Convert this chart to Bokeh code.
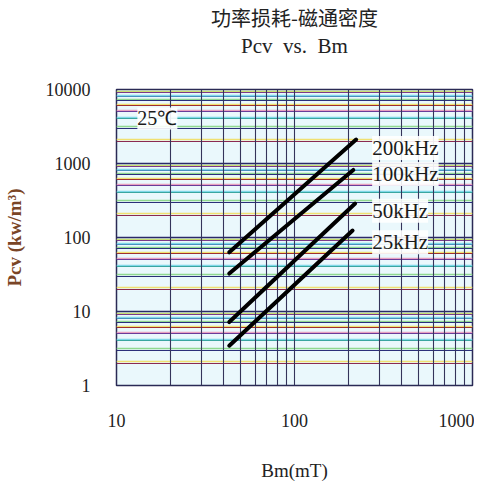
from bokeh.plotting import figure
from bokeh.models import Grid, FixedTicker, Label, Title, NumeralTickFormatter
from bokeh.embed import file_html
from bokeh.resources import INLINE

# ---- data ----
freq_labels = ["200kHz", "100kHz", "50kHz", "25kHz"]
bm_start = [43, 43, 43, 43]
bm_end = [222, 214, 219, 212]
pcv_start = [63, 32.6, 7.2, 3.45]
pcv_end = [2110, 818, 288, 124]
label_bm = [273, 273, 273, 273]
label_pcv = [1615, 723, 230, 86]

x_ticks = [10, 100, 1000]
y_ticks = [1, 10, 100, 1000, 10000]
temp_label = "25℃"

SERIF = "Liberation Serif"

p = figure(width=474, height=483, x_axis_type="log", y_axis_type="log",
           x_range=(10, 1000), y_range=(1, 10000),
           output_backend="svg", toolbar_location=None,
           min_border_left=109, min_border_right=2,
           min_border_top=4, min_border_bottom=14)

p.background_fill_color = "#eaf8fc"
p.border_fill_color = "white"
p.outline_line_color = "#2a2a55"
p.outline_line_width = 1.5

# axes
for ax in (p.xaxis[0], p.yaxis[0]):
    ax.axis_line_color = None
    ax.major_tick_line_color = None
    ax.minor_tick_line_color = None
    ax.major_label_text_font = SERIF
    ax.major_label_text_font_size = "18px"
    ax.major_label_text_color = "#222222"
    ax.formatter = NumeralTickFormatter(format="0")
p.xaxis.ticker = FixedTicker(ticks=x_ticks)
p.yaxis.ticker = FixedTicker(ticks=y_ticks)
p.xaxis.major_label_standoff = 22
p.yaxis.major_label_standoff = 20
p.xaxis.axis_label = "Bm(mT)"
p.xaxis.axis_label_text_font = SERIF
p.xaxis.axis_label_text_font_size = "19px"
p.xaxis.axis_label_text_font_style = "normal"
p.xaxis.axis_label_text_color = "#222222"
p.xaxis.axis_label_standoff = 30
p.yaxis.axis_label = "Pcv (kw/m³)"
p.yaxis.axis_label_text_font = SERIF
p.yaxis.axis_label_text_font_size = "19px"
p.yaxis.axis_label_text_font_style = "bold"
p.yaxis.axis_label_text_color = "#7a4526"
p.yaxis.axis_label_standoff = 18

p.xgrid.grid_line_color = None
p.ygrid.grid_line_color = None

# horizontal colored grid lines (graph-paper look)
main_cols = ["#8b2a52", "#2b2f7a", "#3aa6a0", "#6a3d9a", "#a03030", "#2b2f7a", "#4a8fc0", "#7a3a8a"]
echo_cols = ["#f0e070", "#90d890", "#80d8e8", "#e8a0c0", "#f0e070", "#90d890", "#80d8e8", "#c8e070"]
for i, k in enumerate(range(2, 10)):
    vals = [k * 10 ** n for n in range(0, 4)]
    p.add_layout(Grid(dimension=1, ticker=FixedTicker(ticks=[v * 1.05 for v in vals]),
                      grid_line_color=echo_cols[i], grid_line_width=1.5))
    p.add_layout(Grid(dimension=1, ticker=FixedTicker(ticks=vals),
                      grid_line_color=main_cols[i], grid_line_width=1.2))
p.add_layout(Grid(dimension=1, ticker=FixedTicker(ticks=[10, 100, 1000]),
                  grid_line_color="#2a2a6a", grid_line_width=1.5))

# vertical grid lines
vx = [k * 10 ** n for n in (1, 2) for k in range(2, 10)] + [100]
p.add_layout(Grid(dimension=0, ticker=FixedTicker(ticks=vx),
                  grid_line_color="#34345a", grid_line_width=1.1))

# curves
p.segment(x0=bm_start, y0=pcv_start, x1=bm_end, y1=pcv_end,
          line_color="black", line_width=4, line_cap="round")

for lab, lx, ly in zip(freq_labels, label_bm, label_pcv):
    p.add_layout(Label(x=lx, y=ly, text=lab, text_font=SERIF, text_font_size="21px",
                       text_baseline="middle", text_align="left", text_color="#1a1a1a",
                       background_fill_color="white", background_fill_alpha=0.9))

p.add_layout(Label(x=13.1, y=4070, text=temp_label, text_font=SERIF, text_font_size="20px",
                   text_baseline="middle", text_align="left", text_color="#1a1a1a",
                   background_fill_color="white", background_fill_alpha=0.9))

# titles (spacer first = closest to the frame)
p.title.text = ""
p.add_layout(Title(text=" ", align="center", text_font=SERIF,
                   text_font_size="27px", standoff=0), "above")
p.add_layout(Title(text="Pcv\u00a0 vs.\u00a0 Bm", align="center", text_font=SERIF,
                   text_font_size="21px", text_font_style="normal",
                   text_color="#222222", standoff=0), "above")
p.add_layout(Title(text="功率损耗-磁通密度", align="center", text_font="Noto Sans CJK SC",
                   text_font_size="20px", text_font_style="normal",
                   text_color="#222222", standoff=0), "above")

open("out.html", "w").write(file_html(p, INLINE))
